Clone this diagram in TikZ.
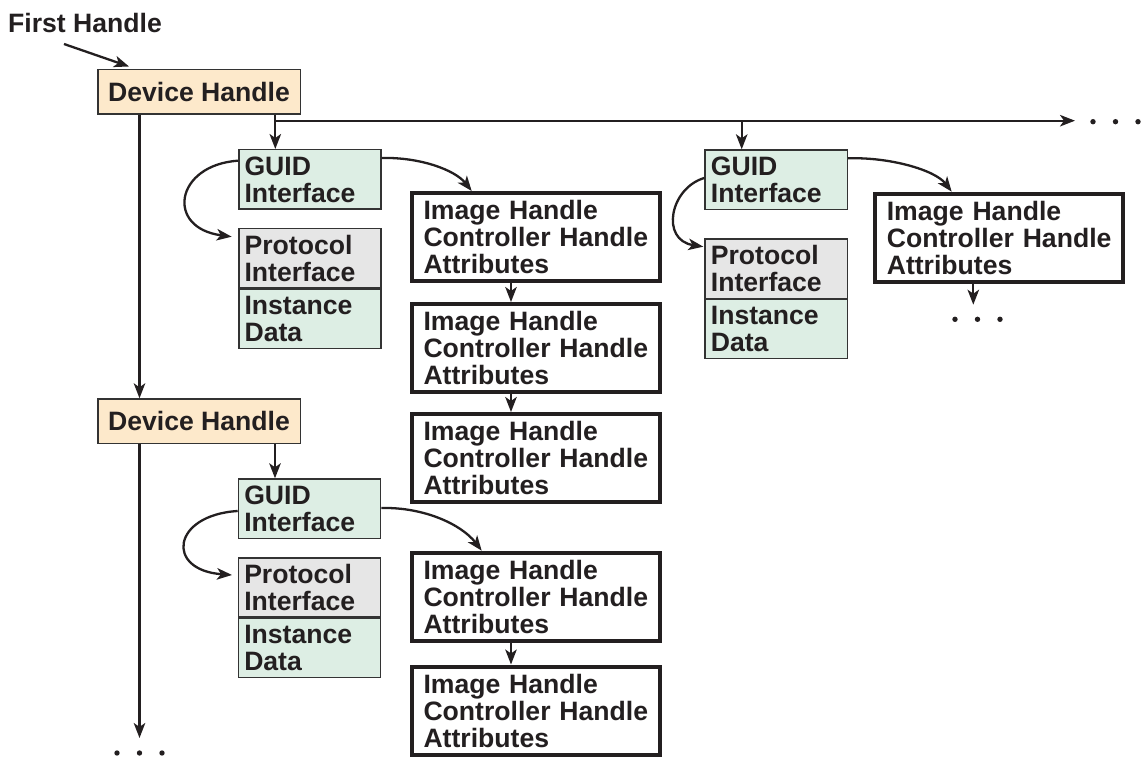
\documentclass[tikz,border=0pt]{standalone}
\usepackage{fontspec}
\setmainfont{Liberation Sans}
\usetikzlibrary{arrows.meta,calc}
\definecolor{peach}{HTML}{FDE9CB}
\definecolor{mint}{HTML}{DDEEE4}
\definecolor{lgray}{HTML}{E6E6E6}
\definecolor{edge}{HTML}{333333}
\definecolor{ink}{HTML}{231F20}
\begin{document}
\begin{tikzpicture}[x=1pt,y=-1pt,
  txt/.style={font=\fontsize{26.6}{27}\selectfont\bfseries, text=ink},
  devbox/.style={txt, draw=edge, line width=1.5pt, fill=peach, anchor=north west,
    minimum width=202.5pt, minimum height=44.5pt, inner sep=0pt, align=center},
  thinbox/.style={txt, draw=edge, line width=1.5pt, anchor=north west,
    text width=130.6pt, inner xsep=5.8pt, inner ysep=0pt, minimum height=59.3pt, align=left},
  guidbox/.style={thinbox, fill=mint},
  protbox/.style={thinbox, fill=lgray},
  instbox/.style={thinbox, fill=mint},
  imgbox/.style={txt, draw=ink, line width=4pt, fill=white, anchor=north west,
    text width=225pt, inner xsep=11.5pt, inner ysep=0pt, minimum height=88pt, align=left},
  arr/.style={draw=ink, line width=2.3pt, -{Stealth[length=15pt,width=11.5pt,inset=4pt]}},
  dotc/.style={fill=ink}
]
\useasboundingbox (0,0) rectangle (1143,759);

% text label
\node[txt, anchor=base west, inner sep=0pt] (fh) at (8,32.3) {First Handle};
\coordinate (fhs) at (64,44);

% device handles
\node[devbox] (dh1) at (97,69) {Device Handle};
\node[devbox] (dh2) at (97,398.3) {Device Handle};

% group 1
\node[guidbox] (g1) at (238,149) {GUID\\Interface};
\node[protbox] (p1) at (238,228) {Protocol\\Interface};
\node[instbox] (i1) at (238,288.2) {Instance\\Data};
\node[imgbox] (b1) at (410,191) {Image Handle\\Controller Handle\\Attributes};
\node[imgbox] (b2) at (410,302) {Image Handle\\Controller Handle\\Attributes};
\node[imgbox] (b3) at (410,412) {Image Handle\\Controller Handle\\Attributes};

% group 2
\node[guidbox] (g2) at (704.3,149.3) {GUID\\Interface};
\node[protbox] (p2) at (704.3,238.3) {Protocol\\Interface};
\node[instbox] (i2) at (704.3,298.5) {Instance\\Data};
\node[imgbox] (b6) at (873.3,191.7) {Image Handle\\Controller Handle\\Attributes};

% group 3
\node[guidbox] (g3) at (237.7,478.3) {GUID\\Interface};
\node[protbox] (p3) at (237.7,557) {Protocol\\Interface};
\node[instbox] (i3) at (237.7,617.2) {Instance\\Data};
\node[imgbox] (b4) at (410,550.7) {Image Handle\\Controller Handle\\Attributes};
\node[imgbox] (b5) at (410,664.5) {Image Handle\\Controller Handle\\Attributes};

% free ends
\coordinate (hend) at (1075,120.7);
\coordinate (vend) at (139.5,738);
\coordinate (g2top) at ($(g2.north west)+(37.4,0)$);
\coordinate (dotsR) at (1115.5,121.7);
\coordinate (dotsM) at (977.5,319.3);
\coordinate (dotsL) at (139.5,753);

% connectors
\draw[arr] (fhs) -- ($(dh1.north west)+(32,-2.5)$);
\draw[arr] ($(dh1.south west)+(42.5,0)$) -- ($(dh2.north west)+(42.5,0)$);
\draw[arr] ($(dh2.south west)+(42.5,0)$) -- (vend);
\draw[arr] ($(dh1.south west)+(178.3,0)$) -- ($(g1.north west)+(37.3,0)$);
\draw[arr] ($(dh1.south west)+(178.3,0)$) |- (hend);
\draw[arr] (g2top |- hend) -- (g2top);
\draw[arr] ($(dh2.south west)+(178,0)$) -- ($(g3.north west)+(37.3,0)$);

% GUID -> protocol curves
\draw[arr] ($(g1.north west)+(0,11.7)$) .. controls (175,165) and (165,228) .. ($(p1.north west)+(-6.3,8.7)$);
\draw[arr] ($(g2.north west)+(0,28.7)$) .. controls (670,188) and (660,240) .. ($(p2.north west)+(-1,8.4)$);
\draw[arr] ($(g3.north west)+(0,32.7)$) .. controls (172,515) and (165,570) .. ($(p3.north west)+(-5.7,18)$);

% GUID -> image curves
\draw[arr] ($(g1.north east)+(0,9)$) .. controls (420,157) and (455,170) .. ($(b1.north west)+(61.7,0)$);
\draw[arr] ($(g2.north east)+(0,9)$) .. controls (890,157) and (935,170) .. ($(b6.north west)+(78.4,0)$);
\draw[arr] ($(g3.north east)+(0,29.7)$) .. controls (425,507) and (462,525) .. ($(b4.north west)+(71.7,0)$);

% image chains
\draw[arr] ($(b1.south west)+(101,0)$) -- ($(b2.north west)+(101,0)$);
\draw[arr] ($(b2.south west)+(101,0)$) -- ($(b3.north west)+(101,0)$);
\draw[arr] ($(b4.south west)+(101,0)$) -- ($(b5.north west)+(101,0)$);
\draw[arr] ($(b6.south west)+(100,0)$) -- ($(b6.south west)+(100,21)$);

% ellipsis dots
\foreach \dx in {-22.5,0,22.5} {
  \fill[dotc] ($(dotsR)+(\dx,0)$) circle (2.7pt);
  \fill[dotc] ($(dotsM)+(\dx,0)$) circle (2.7pt);
  \fill[dotc] ($(dotsL)+(\dx,0)$) circle (2.7pt);
}
\end{tikzpicture}
\end{document}
